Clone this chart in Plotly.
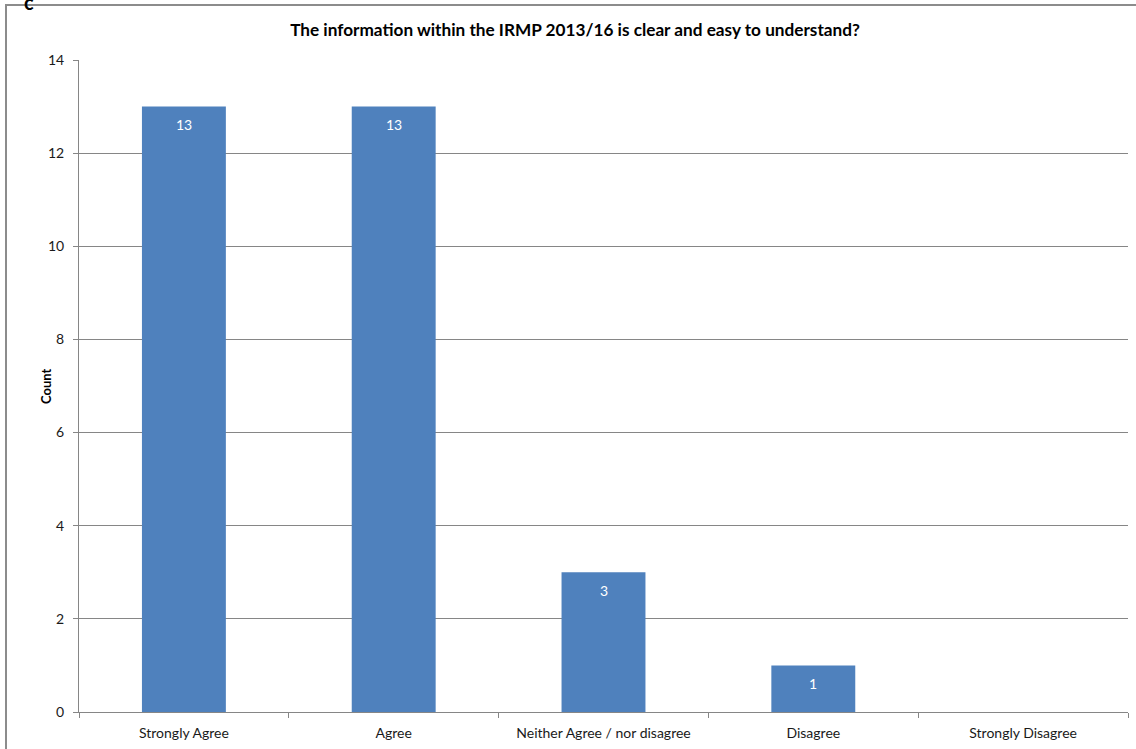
import plotly.graph_objects as go

categories = ["Strongly Agree", "Agree", "Neither Agree / nor disagree", "Disagree", "Strongly Disagree"]
counts = [13, 13, 3, 1, 0]
y_ticks = [0, 2, 4, 6, 8, 10, 12, 14]

W, H = 1136, 749
L, R, T, B = 79, 8, 60, 37
pw, ph = W - L - R, H - T - B

def px_x(p):
    return (p - L) / pw

def px_y(p):
    return (H - B - p) / ph

FONT = "Lato, Open Sans, sans-serif"

fig = go.Figure()
fig.add_trace(go.Bar(
    x=categories, y=counts,
    marker=dict(color="#4F81BD", line=dict(width=0)),
    width=0.4,
    hoverinfo="x+y",
))

for c, v in zip(categories, counts):
    if v > 0:
        fig.add_annotation(x=c, y=v, text=str(v), showarrow=False, yshift=-18,
                           font=dict(color="white", size=14, family=FONT))

fig.update_layout(
    width=W, height=H,
    margin=dict(l=L, r=R, t=T, b=B, autoexpand=False),
    plot_bgcolor="white", paper_bgcolor="white",
    showlegend=False,
    bargap=0.6,
    font=dict(family=FONT, size=14, color="#1a1a1a"),
    title=dict(text="<b>The information within the IRMP 2013/16 is clear and easy to understand?</b>",
               x=575 / W, xanchor="center", y=1 - 30 / H, yanchor="middle",
               font=dict(size=17.2, color="black", family=FONT), automargin=False),
)

fig.update_xaxes(
    showline=True, linecolor="#868686", linewidth=1,
    ticks="outside", ticklen=5, tickcolor="#868686",
    tickson="boundaries",
    ticklabelstandoff=8,
    showgrid=False,
    tickfont=dict(size=14, color="#1a1a1a"),
    range=[-0.5, 4.5],
    automargin=False,
)
fig.update_yaxes(
    range=[0, 14], tickvals=y_ticks,
    showline=True, linecolor="#868686", linewidth=1,
    ticks="outside", ticklen=5, tickcolor="#868686",
    ticklabelstandoff=6,
    showgrid=True, gridcolor="#868686", gridwidth=1,
    tickfont=dict(size=14, color="#1a1a1a"),
    zeroline=False,
    automargin=False,
)

# y-axis title placed as annotation for exact position
fig.add_annotation(xref="paper", yref="paper", x=px_x(36), y=px_y(386),
                   text="<b>Count</b>", textangle=-90, showarrow=False,
                   font=dict(size=13, color="black", family=FONT))

# outer chart border (partially cropped at right and bottom)
fig.add_shape(type="rect", xref="paper", yref="paper",
              x0=px_x(6), x1=px_x(W + 20), y0=px_y(H + 20), y1=px_y(5),
              line=dict(color="#8c8c8c", width=2), fillcolor="rgba(0,0,0,0)", layer="below")

# cropped remnant letter at top left
fig.add_annotation(xref="paper", yref="paper", x=px_x(22), y=px_y(-12),
                   text="<b>c</b>", showarrow=False, font=dict(size=20, color="black"))

fig.write_html("out.html", config={"displayModeBar": False},
               post_script="document.body.style.margin='0';")
